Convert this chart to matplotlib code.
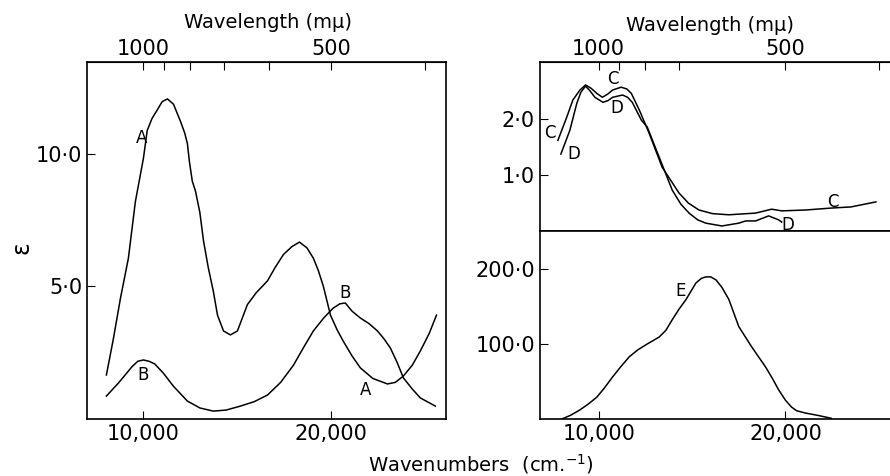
import numpy as np
import matplotlib.pyplot as plt

plt.rcParams['font.family'] = ['DejaVu Sans']

# curve A (left panel) : wavenumber (cm-1), epsilon
a_wn = [8030, 8400, 8780, 9200, 9570, 10000, 10200, 10450, 10750, 11000, 11280, 11600,
        11970, 12200, 12340, 12450, 12600, 12770, 13000, 13200, 13450, 13720, 13940,
        14260, 14630, 15000, 15530, 16000, 16600, 17000, 17450, 17900, 18300, 18700,
        19040, 19300, 19570, 19950, 20300, 20640, 21100, 21540, 22200, 22980, 23400,
        23830, 24300, 24730, 25200, 25590]
a_eps = [1.63, 3.0, 4.55, 6.06, 8.2, 9.85, 10.9, 11.35, 11.7, 12.0, 12.1, 11.9,
         11.25, 10.8, 10.4, 9.7, 8.98, 8.6, 7.8, 6.7, 5.7, 4.8, 3.9,
         3.3, 3.15, 3.3, 4.3, 4.75, 5.2, 5.7, 6.2, 6.5, 6.67, 6.45,
         6.06, 5.6, 5.0, 3.9, 3.35, 2.9, 2.35, 1.9, 1.5, 1.29, 1.35,
         1.59, 2.0, 2.54, 3.2, 3.9]

# curve B (left panel)
b_wn = [8030, 8700, 9400, 9700, 10000, 10300, 10600, 11060, 11600, 12340, 13000, 13720,
        14400, 15160, 15900, 16600, 17300, 17980, 18500, 19040, 19600, 20100, 20450,
        20740, 21100, 21540, 22000, 22450, 22800, 23140, 23500, 23830, 24300, 24730, 25530]
b_eps = [0.83, 1.35, 1.95, 2.15, 2.2, 2.15, 2.05, 1.7, 1.2, 0.64, 0.38, 0.26,
         0.3, 0.45, 0.62, 0.87, 1.35, 2.0, 2.65, 3.3, 3.8, 4.17, 4.33,
         4.36, 4.05, 3.79, 3.58, 3.3, 3.0, 2.65, 2.1, 1.52, 1.1, 0.76, 0.45]

# curves C and D (upper right panel)
c_wn = [7820, 8300, 8620, 9000, 9300, 9600, 9900, 10200, 10500, 10750, 11200, 11500,
        11750, 12180, 12700, 13400, 14300, 14800, 15370, 16100, 16970, 18400, 19260,
        19800, 21060, 22450, 23500, 24840]
c_val = [1.62, 2.04, 2.34, 2.52, 2.61, 2.55, 2.46, 2.39, 2.45, 2.52, 2.57, 2.54,
         2.46, 2.16, 1.75, 1.14, 0.68, 0.5, 0.375, 0.31, 0.29, 0.32, 0.39,
         0.36, 0.375, 0.41, 0.43, 0.52]
d_wn = [7980, 8460, 8830, 9050, 9300, 9550, 9800, 10230, 10500, 10750, 11280, 11550,
        11800, 12290, 12600, 13240, 13940, 14400, 14840, 15300, 15740, 16600, 17500,
        17870, 18400, 19100, 19630, 19800]
d_val = [1.375, 1.8, 2.28, 2.48, 2.59, 2.5, 2.39, 2.30, 2.33, 2.39, 2.43, 2.39,
         2.30, 1.98, 1.86, 1.32, 0.73, 0.48, 0.32, 0.2, 0.14, 0.09, 0.14,
         0.18, 0.18, 0.27, 0.2, 0.16]

# curve E (lower right panel)
e_wn = [8030, 8500, 8990, 9450, 9900, 10300, 10750, 11200, 11650, 12100, 12550, 13240,
        13600, 13940, 14300, 14680, 15210, 15500, 15740, 16000, 16280, 16600, 16970,
        17500, 18190, 18940, 19300, 19630, 20000, 20320, 20600, 21060, 21700, 22450]
e_val = [0, 5, 12, 20, 29, 41, 56, 70, 83, 92, 99, 109,
         118, 132, 146, 159, 181, 187, 189, 189, 185, 175, 159,
         123, 96, 69, 54, 39, 25, 16, 11, 8, 5, 1]

wl_ticks = [1000, 900, 800, 700, 600, 500, 400]
wl_ticks_right = [1000, 900, 800, 700, 500, 400]

fig = plt.figure(figsize=(8.9, 4.76), dpi=100)

def top_axis(ax, wls):
    sec = ax.secondary_xaxis('top')
    sec.set_xticks([1e7 / w for w in wls],
                   labels=[str(w) if w in (1000, 500) else '' for w in wls])
    sec.tick_params(direction='in', length=6, labelsize=15, pad=2)
    return sec

def style(ax):
    ax.tick_params(direction='in', length=6, labelsize=15)
    for s in ax.spines.values():
        s.set_linewidth(1.2)

# left panel
ax1 = fig.add_axes([0.0978, 0.1197, 0.4034, 0.75])
ax1.plot(a_wn, a_eps, color='black', lw=1.1)
ax1.plot(b_wn, b_eps, color='black', lw=1.1)
ax1.set_xlim(7000, 26100)
ax1.set_ylim(-0.04, 13.5)
ax1.set_xticks([10000, 20000], labels=['10,000', '20,000'])
ax1.set_yticks([5, 10], labels=['5·0', '10·0'])
style(ax1)
top_axis(ax1, wl_ticks)
fig.text(0.024, 0.479, 'ε', fontsize=17, rotation=90, ha='center', va='center')
ax1.text(9900, 10.6, 'A', fontsize=12, ha='center', va='center')
ax1.text(20750, 4.75, 'B', fontsize=12, ha='center', va='center')
ax1.text(10000, 1.62, 'B', fontsize=12, ha='center', va='center')
ax1.text(21800, 1.05, 'A', fontsize=12, ha='center', va='center')
fig.text(0.301, 0.953, 'Wavelength (mμ)', fontsize=14, ha='center', va='center')

# upper right panel
ax2 = fig.add_axes([0.6067, 0.5147, 0.3955, 0.355])
ax2.plot(c_wn, c_val, color='black', lw=1.1)
ax2.plot(d_wn, d_val, color='black', lw=1.1)
ax2.set_xlim(6860, 25700)
ax2.set_ylim(0, 3.02)
ax2.set_xticks([])
ax2.set_yticks([1, 2], labels=['1·0', '2·0'])
style(ax2)
ax2.spines['right'].set_visible(False)
top_axis(ax2, wl_ticks_right)
ax2.text(10750, 2.72, 'C', fontsize=12, ha='center', va='center')
ax2.text(11000, 2.2, 'D', fontsize=12, ha='center', va='center')
ax2.text(7380, 1.75, 'C', fontsize=12, ha='center', va='center')
ax2.text(8650, 1.38, 'D', fontsize=12, ha='center', va='center')
ax2.text(22550, 0.52, 'C', fontsize=12, ha='center', va='center')
ax2.text(20100, 0.1, 'D', fontsize=12, ha='center', va='center')
fig.text(0.798, 0.947, 'Wavelength (mμ)', fontsize=14, ha='center', va='center')

# lower right panel
ax3 = fig.add_axes([0.6067, 0.1197, 0.3955, 0.395])
ax3.plot(e_wn, e_val, color='black', lw=1.1)
ax3.set_xlim(6860, 25700)
ax3.set_ylim(0, 250)
ax3.set_xticks([10000, 20000], labels=['10,000', '20,000'])
ax3.set_yticks([100, 200], labels=['100·0', '200·0'])
style(ax3)
ax3.spines['right'].set_visible(False)
ax3.text(14400, 170, 'E', fontsize=12, ha='center', va='center')

fig.text(0.54, 0.025, 'Wavenumbers  (cm.$^{-1}$)', fontsize=14, ha='center', va='center')

fig.savefig('out.png', dpi=100)
